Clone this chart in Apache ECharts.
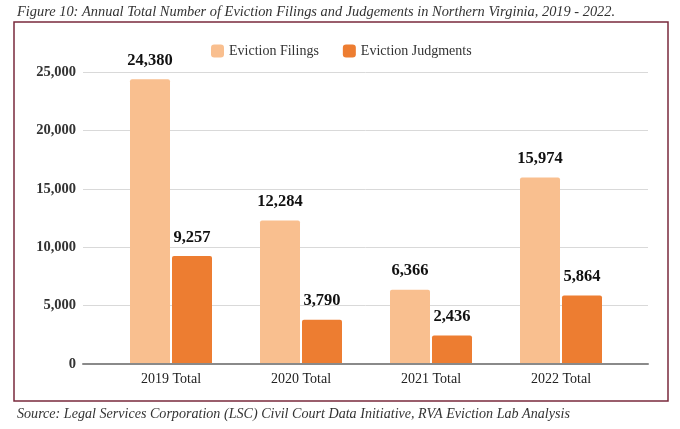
<!DOCTYPE html>
<html>
<head>
<meta charset="utf-8">
<script src="https://cdn.jsdelivr.net/npm/echarts@6/dist/echarts.min.js"></script>
<style>
    html, body { margin: 0; padding: 0; background: #fff; }
    .chart { width: 680px; height: 429px; }
</style>
</head>
<body>
<div class="chart"></div>
<script>
var categories = ['2019 Total', '2020 Total', '2021 Total', '2022 Total'];
var filings = [24380, 12284, 6366, 15974];
var judgments = [9257, 3790, 2436, 5864];
var yTicks = [0, 5000, 10000, 15000, 20000, 25000];

var FONT = '"Liberation Serif", "DejaVu Serif", serif';

function fmt(v) {
    return Number(v).toLocaleString('en-US');
}

var myChart;
function initChart() {
    var chartDom = document.querySelector('.chart');
    myChart = echarts.init(chartDom);
    var option;

    option = {
        backgroundColor: '#fff',
        animation: false,
        title: [
            {
                text: 'Figure 10: Annual Total Number of Eviction Filings and Judgements in Northern Virginia, 2019 - 2022.',
                left: 12,
                top: 0,
                textStyle: { fontFamily: FONT, fontStyle: 'italic', fontWeight: 'normal', fontSize: 14.4, color: '#333' }
            },
            {
                text: 'Source: Legal Services Corporation (LSC) Civil Court Data Initiative, RVA Eviction Lab Analysis',
                left: 12,
                top: 402,
                textStyle: { fontFamily: FONT, fontStyle: 'italic', fontWeight: 'normal', fontSize: 14.1, color: '#333' }
            }
        ],
        graphic: [
            {
                type: 'rect',
                shape: { x: 14, y: 22, width: 654, height: 379 },
                style: { fill: 'none', stroke: '#7a2a3c', lineWidth: 1.5 },
                z: -1
            }
        ],
        legend: {
            data: ['Eviction Filings', 'Eviction Judgments'],
            left: 206,
            top: 39,
            itemWidth: 13,
            itemHeight: 13,
            itemGap: 24,
            selectedMode: false,
            textStyle: { fontFamily: FONT, fontSize: 14, color: '#333' }
        },
        grid: [
            { left: 83, right: 32, top: 72, bottom: 65 },
            { left: 106, right: 54, top: 72, bottom: 65 }
        ],
        xAxis: [
            {
                gridIndex: 0,
                type: 'category',
                data: categories,
                axisLine: { show: true, lineStyle: { color: '#8a8a8a', width: 2 } },
                axisTick: { show: false },
                axisLabel: { show: false },
                z: 5
            },
            {
                gridIndex: 1,
                type: 'category',
                data: categories,
                axisLine: { show: false },
                axisTick: { show: false },
                axisLabel: { fontFamily: FONT, fontSize: 14, color: '#222', margin: 8 }
            }
        ],
        yAxis: [
            {
                gridIndex: 0,
                type: 'value',
                min: yTicks[0],
                max: yTicks[yTicks.length - 1],
                interval: 5000,
                axisLine: { show: false },
                axisTick: { show: false },
                splitLine: { lineStyle: { color: '#d9d9d9', width: 1 } },
                axisLabel: {
                    fontFamily: FONT,
                    fontSize: 14.5,
                    fontWeight: 'bold',
                    color: '#333',
                    margin: 7,
                    formatter: function (value) { return fmt(value); }
                }
            },
            {
                gridIndex: 1,
                type: 'value',
                min: yTicks[0],
                max: yTicks[yTicks.length - 1],
                interval: 5000,
                show: false
            }
        ],
        series: [
            {
                name: 'Eviction Filings',
                type: 'bar',
                xAxisIndex: 1,
                yAxisIndex: 1,
                barWidth: 40,
                barGap: '5%',
                data: filings,
                itemStyle: { color: '#f9bf8f', borderRadius: [2, 2, 0, 0] },
                label: {
                    show: true,
                    position: 'top',
                    distance: 10,
                    fontFamily: FONT,
                    fontSize: 16.5,
                    fontWeight: 'bold',
                    color: '#111',
                    formatter: function (p) { return fmt(p.value); }
                }
            },
            {
                name: 'Eviction Judgments',
                type: 'bar',
                xAxisIndex: 1,
                yAxisIndex: 1,
                barWidth: 40,
                data: judgments,
                itemStyle: { color: '#ed7d31', borderRadius: [2, 2, 0, 0] },
                label: {
                    show: true,
                    position: 'top',
                    distance: 10,
                    fontFamily: FONT,
                    fontSize: 16.5,
                    fontWeight: 'bold',
                    color: '#111',
                    formatter: function (p) { return fmt(p.value); }
                }
            }
        ]
    };

    option && myChart.setOption(option);
}

document.addEventListener('DOMContentLoaded', function () {
    initChart();
});

window.addEventListener('resize', () => {
    myChart.resize();
})
</script>
</body>
</html>
